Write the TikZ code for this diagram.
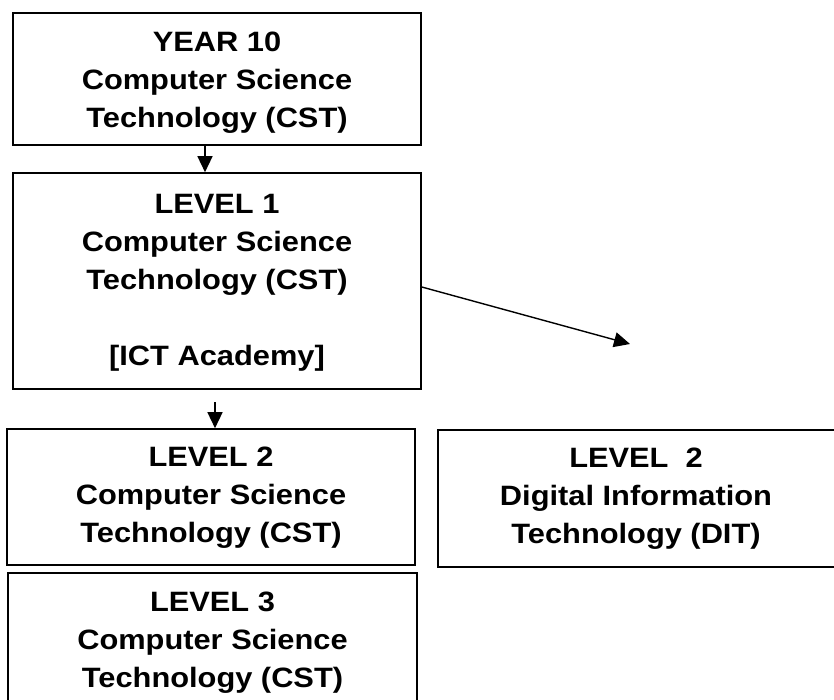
\documentclass[tikz,border=0pt]{standalone}
\usepackage{fontspec}
\setmainfont{Liberation Sans}[FakeStretch=1.1]
\usetikzlibrary{arrows.meta}
\begin{document}
\begin{tikzpicture}[x=1pt,y=-1pt,
  box/.style={draw,line width=1.6pt,inner sep=0pt},
  txt/.style={align=center,inner sep=0pt,
    font=\bfseries\fontsize{28}{38}\selectfont},
  arr/.style={line width=1.4pt,-{Triangle[length=16pt,width=15pt]}}]
\clip (0,0) rectangle (834,699);
% boxes
\node[box,minimum width=408pt,minimum height=132pt] (y10) at (217,79) {};
\node[box,minimum width=408pt,minimum height=216pt] (l1) at (217,281) {};
\node[box,minimum width=408pt,minimum height=136pt] (l2) at (211,497) {};
\node[box,minimum width=398pt,minimum height=137pt] (dit) at (637,498.5) {};
\node[box,minimum width=409pt,minimum height=148pt] (l3) at (212.5,647) {};
% texts
\node[txt] (ty10) at (217,83) {YEAR 10\\Computer Science\\Technology (CST)};
\node[txt] (tl1) at (217,283) {LEVEL 1\\ Computer Science\\Technology (CST)\\[38pt][ICT Academy]};
\node[txt] (tl2) at (211,498) {LEVEL 2\\Computer Science\\Technology (CST)};
\node[txt] (tdit) at (636,499) {LEVEL\ \ 2\\Digital Information\\Technology (DIT)};
\node[txt] (tl3) at (212.5,643) {LEVEL 3\\Computer Science\\Technology (CST)};
% connectors
\coordinate (dtip) at (630,344);
\coordinate (t2) at (215,402);
\draw[arr] ([xshift=-12pt]y10.south) -- ([xshift=-12pt]l1.north);
\draw[arr] ([yshift=-6pt]l1.east) -- (dtip);
\draw[arr] (t2) -- ([xshift=4pt]l2.north);
\end{tikzpicture}
\end{document}
